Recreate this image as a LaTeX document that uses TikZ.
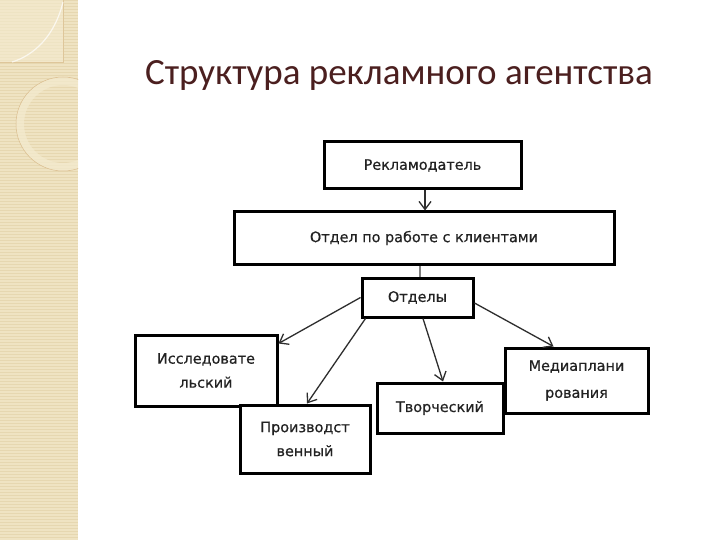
\documentclass[tikz,border=0pt]{standalone}
\usepackage{fontspec}
\setmainfont{Carlito}
\newfontfamily\boxfont[FakeBold=0.6]{DejaVu Sans}
\usetikzlibrary{arrows.meta}
\definecolor{strip}{HTML}{EFE3C2}
\definecolor{stripline}{HTML}{E6D7B0}
\definecolor{stripleaf}{HTML}{F4EBD0}
\definecolor{titlecol}{HTML}{4B1F1F}
\definecolor{boxtext}{HTML}{222222}
\definecolor{conn}{HTML}{2E2E2E}
\tikzset{
  box/.style={draw=black, line width=3pt, fill=white, inner sep=0pt, align=center,
    text=boxtext, font=\boxfont\fontsize{14.4}{24}\selectfont},
  arr/.style={draw=conn, line width=1.3pt, -{Straight Barb[length=8pt,width=12pt]}},
  plain/.style={draw=gray, line width=1.3pt}
}
\begin{document}
\begin{tikzpicture}[x=1pt,y=-1pt]
\useasboundingbox (0,0) rectangle (720,540);
\fill[white] (0,0) rectangle (720,540);
% decorative strip
\fill[strip] (0,0) rectangle (78,540);
\foreach \yy in {0,3,...,540} {\draw[stripline, line width=0.6pt] (0,\yy) -- (78,\yy);}
\begin{scope}
\clip (0,0) rectangle (78,540);
\fill[stripleaf, opacity=0.6] (0,0) rectangle (63,62);
\draw[stripline!80!brown, line width=0.6pt] (63,0) -- (63,62) -- (0,62);
\draw[white, opacity=0.7, line width=1.2pt] (63,2) .. controls (55,35) and (35,55) .. (12,62);
\fill[stripleaf, opacity=0.7, even odd rule] (63,124) circle (47) (63,124) circle (39);
\draw[stripline!70!brown, line width=0.5pt] (63,124) circle (47);
\end{scope}
% title
\node[anchor=base west, inner sep=0pt, text=titlecol, font=\fontsize{37}{44}\selectfont] (title) at (145,85) {Структура рекламного агентства};
% boxes
\node[box, minimum width=197pt, minimum height=47pt] (rek) at (422.5,165.5) {Рекламодатель};
\node[box, minimum width=380pt, minimum height=52pt] (otd) at (424,238) {Отдел по работе с клиентами};
\node[box, minimum width=111pt, minimum height=39pt] (otdely) at (417.5,297.5) {Отделы};
\node[box, minimum width=142pt, minimum height=71pt] (issl) at (206,370.5) {Исследовате\\льский};
\node[box, minimum width=130pt, minimum height=68pt] (proiz) at (305,439) {Производст\\венный};
\node[box, minimum width=126pt, minimum height=50pt] (tvor) at (440,408) {Творческий};
\node[box, minimum width=143pt, minimum height=65pt] (media) at (576.5,380.5) {Медиаплани\\[3pt]рования};
% connectors
\draw[arr] ([xshift=2.5pt]rek.south) -- ([xshift=1pt]otd.north);
\draw[plain] ([xshift=2.5pt]otdely.north) -- ([xshift=2.5pt]otdely.north |- otd.south);
\draw[arr] (otdely.west) -- ([yshift=-10pt]issl.north east);
\draw[arr] ([xshift=5pt]otdely.south west) -- ([xshift=2pt]proiz.north);
\draw[arr] ([xshift=5.5pt]otdely.south) -- ([xshift=3pt]tvor.north);
\draw[arr] ([yshift=-5.5pt]otdely.east) -- ([xshift=-23pt]media.north);
\end{tikzpicture}
\end{document}
